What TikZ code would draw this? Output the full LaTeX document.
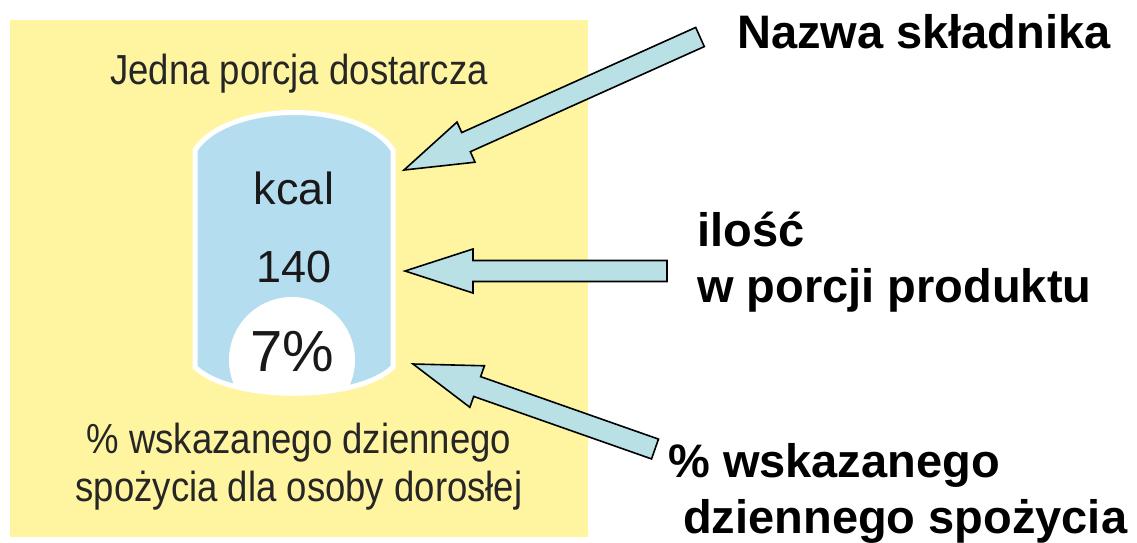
\documentclass[tikz,border=0pt]{standalone}
\usepackage{fontspec}
\setmainfont{Liberation Sans}
\usetikzlibrary{calc}
\definecolor{labelbg}{HTML}{FFF5A0}
\definecolor{bottlebl}{HTML}{B4DDF0}
\definecolor{arrowbl}{HTML}{B9E0E4}
\def\headlen{68pt}
\def\headw{22pt}
\def\shaftw{10.5pt}
% block arrow from tail (#1) to tip (#2)
\def\blockarrow(#1)(#2){%
  \coordinate (hb) at ($(#2)!\headlen!(#1)$);
  \draw[arrowbody] (#2) -- ($(hb)!\headw!90:(#2)$) -- ($(hb)!\shaftw!90:(#2)$)
    -- ($(#1)!\shaftw!90:(#2)$) -- ($(#1)!\shaftw!-90:(#2)$)
    -- ($(hb)!\shaftw!-90:(#2)$) -- ($(hb)!\headw!-90:(#2)$) -- cycle;}
\tikzset{
  arrowbody/.style={fill=arrowbl, draw=black, line width=1.6pt, line join=miter},
  bottleshape/.style={insert path={(195,150) .. controls (228,100) and (360,100) .. (393,150)
    -- (393,367) .. controls (358,402) and (230,402) .. (195,367) -- cycle}},
  smalltxt/.style={font=\fontsize{42}{48}\selectfont, text=black!85, xscale=0.87, align=center},
  valtxt/.style={font=\fontsize{45}{52}\selectfont, text=black!90},
  bigtxt/.style={font=\bfseries\fontsize{47}{56}\selectfont, anchor=base west, align=left, inner sep=0pt}
}
\begin{document}
\begin{tikzpicture}[x=1pt, y=-1pt]
  \useasboundingbox (0,0) rectangle (1137,542);
  % panel
  \fill[labelbg] (10,20) rectangle (588,537);
  \node[smalltxt] (head) at (299,74) {Jedna porcja dostarcza};
  % bottle
  \fill[bottlebl, bottleshape];
  \begin{scope}
    \clip[bottleshape];
    \fill[white] (292,360) circle (63);
  \end{scope}
  \draw[white, line width=5pt, bottleshape];
  \node[valtxt] (kcal) at (294,188) {kcal};
  \node[valtxt] (val) at (294,267) {140};
  \node[valtxt, font=\fontsize{58}{64}\selectfont] (pct) at (292,352) {7\%};
  \node[smalltxt] (foot) at (299,467) {\% wskazanego dziennego\\spożycia dla osoby dorosłej};
  % labels on the right
  \node[bigtxt] (name) at (737,48) {Nazwa składnika};
  \node[bigtxt] (amount) at (697,302) {ilość\\w porcji produktu};
  \node[bigtxt] (share) at (668,533) {\% wskazanego\\\hspace*{15pt}dziennego spożycia};
  % arrows
  \coordinate (t1) at (700,37);  \coordinate (p1) at (404,170);
  \coordinate (t2) at (667,271); \coordinate (p2) at (405,271);
  \coordinate (t3) at (655,449); \coordinate (p3) at (413,364);
  \blockarrow(t1)(p1)
  \blockarrow(t2)(p2)
  \blockarrow(t3)(p3)
\end{tikzpicture}
\end{document}
